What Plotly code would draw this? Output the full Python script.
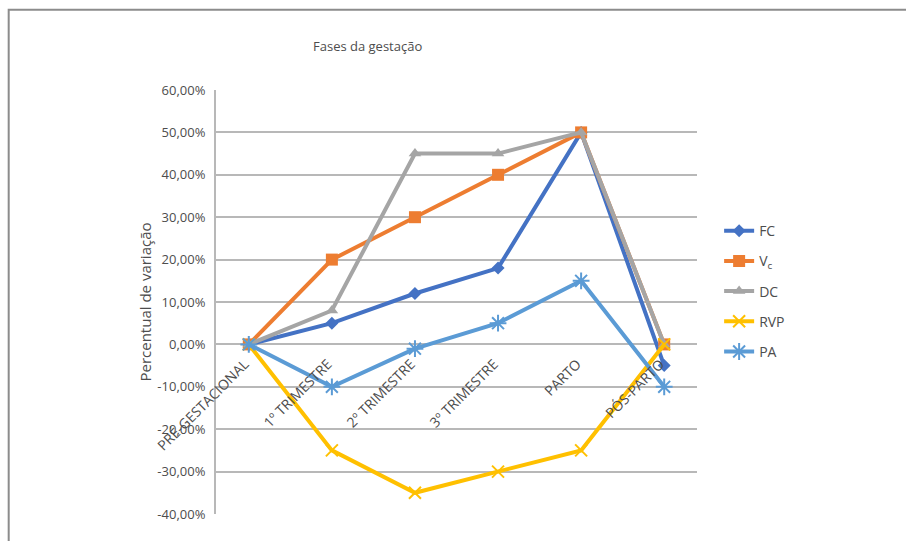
import plotly.graph_objects as go

# Pregnancy phases (category axis)
fases = ["PRÉ-GESTACIONAL", "1º TRIMESTRE", "2º TRIMESTRE", "3º TRIMESTRE", "PARTO", "PÓS-PARTO"]

# Percent variation of each cardiovascular parameter
fc = [0, 5, 12, 18, 50, -5]
vc = [0, 20, 30, 40, 50, 0]
dc = [0, 8, 45, 45, 50, 0]
rvp = [0, -25, -35, -30, -25, 0]
pa = [0, -10, -1, 5, 15, -10]

y_ticks = [60, 50, 40, 30, 20, 10, 0, -10, -20, -30, -40]
y_tick_text = ["60,00%", "50,00%", "40,00%", "30,00%", "20,00%", "10,00%",
               "0,00%", "-10,00%", "-20,00%", "-30,00%", "-40,00%"]

FONT = "Open Sans, Lato, sans-serif"
TXT = "#4D4D4D"

series = [
    ("FC", fc, "#4472C4", dict(symbol="diamond", size=10)),
    ("V<sub>c</sub>", vc, "#ED7D31", dict(symbol="square", size=12)),
    ("DC", dc, "#A5A5A5", dict(symbol="triangle-up", size=11)),
    ("RVP", rvp, "#FFC000", dict(symbol="x-thin-open", size=12, line=dict(width=2))),
    ("PA", pa, "#5B9BD5", dict(symbol="asterisk-open", size=14, line=dict(width=2))),
]

fig = go.Figure()
for i, (name, vals, color, mk) in enumerate(series):
    marker = dict(color=color, **mk)
    if "line" in marker:
        marker["line"] = dict(color=color, **mk["line"])
    fig.add_trace(go.Scatter(
        x=fases, y=vals, name=name, mode="lines+markers",
        line=dict(color=color, width=4),
        marker=marker,
        legendgroup=f"g{i}",
    ))

fig.update_layout(
    width=906, height=541,
    margin=dict(l=216, r=209, t=90, b=27),
    paper_bgcolor="white", plot_bgcolor="white",
    font=dict(family=FONT, color=TXT, size=13),
    showlegend=True,
    legend=dict(
        x=1.046, xanchor="left", y=0.705, yanchor="top",
        font=dict(family=FONT, size=14, color=TXT),
        tracegroupgap=9, bgcolor="rgba(0,0,0,0)",
    ),
    xaxis=dict(
        type="category", anchor="free", position=0.4,
        tickangle=-45, showgrid=False, showline=False, zeroline=False,
        ticks="", ticklabelstandoff=8, ticklabelshift=-4,
        tickfont=dict(family=FONT, size=14, color=TXT),
    ),
    yaxis=dict(
        range=[-40, 60], tickvals=y_ticks, ticktext=y_tick_text,
        showgrid=True, gridcolor="#B8B8B8", gridwidth=2,
        zeroline=False, showline=True, linecolor="#B8B8B8", linewidth=2,
        ticks="", ticklabelstandoff=6,
        tickfont=dict(family=FONT, size=13, color=TXT),
        title=dict(text="Percentual de variação", standoff=2,
                   font=dict(family=FONT, size=15, color=TXT)),
    ),
    annotations=[dict(
        text="Fases da gestação", xref="paper", yref="paper",
        x=0.316, y=1.104, xanchor="center", yanchor="middle",
        showarrow=False, font=dict(family=FONT, size=13, color=TXT),
    )],
    shapes=[dict(
        type="rect", xref="paper", yref="paper",
        x0=-0.431, y0=-0.3, x1=1.6, y1=1.189,
        line=dict(color="#8C8C8C", width=2), layer="below",
    )],
)

fig.write_html("out.html")
